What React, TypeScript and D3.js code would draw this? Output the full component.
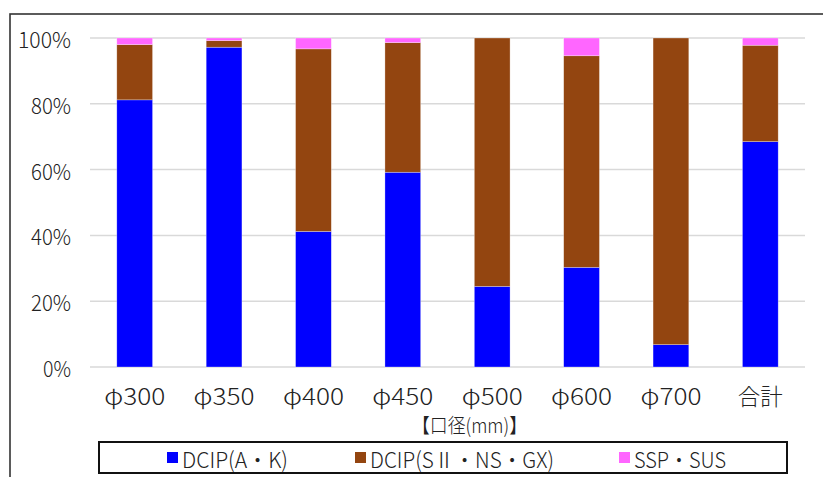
import React from "react";
import * as d3 from "d3";

const categories = ["φ300", "φ350", "φ400", "φ450", "φ500", "φ600", "φ700", "合計"];
const dcipAK = [81.2, 97.2, 41.2, 59.2, 24.5, 30.3, 6.8, 68.5];
const dcipSNG = [16.8, 2.0, 55.5, 39.4, 75.5, 64.3, 93.2, 29.3];
const sspSus = [2.0, 0.8, 3.3, 1.4, 0.0, 5.4, 0.0, 2.2];
const seriesNames = ["DCIP(A・K)", "DCIP(SⅡ・NS・GX)", "SSP・SUS"];
const seriesColors = ["#0000FF", "#934510", "#FF66FF"];
const yTicks = [0, 20, 40, 60, 80, 100];
const xTitle = "【口径(mm)】";

const W = 823;
const H = 477;
const FONT = "'Noto Sans CJK JP', 'Noto Sans', sans-serif";

export default function App() {
  const x = d3.scaleBand<string>().domain(categories).range([90, 805]).paddingInner(0.6).paddingOuter(0.3);
  const y = d3.scaleLinear().domain([0, 100]).range([367, 38]);

  const rows = categories.map((c, i) => ({ cat: c, a: dcipAK[i], b: dcipSNG[i], c: sspSus[i] }));
  const stack = d3.stack<any>().keys(["a", "b", "c"])(rows);

  const legendX = [167, 355, 619];
  const legendTextLen = [106, 184, 92];

  return (
    <svg width={W} height={H} style={{ position: "absolute", left: 0, top: 0, display: "block", background: "#fff" }}>
      <rect x={10} y={14} width={900} height={700} fill="#fff" stroke="#333" strokeWidth={1.6} />
      {yTicks.map((t) => (
        <g key={t}>
          <line x1={90} x2={805} y1={y(t)} y2={y(t)} stroke="#d9d9d9" strokeWidth={1.5} />
          <text x={71} y={y(t)} textAnchor="end" dominantBaseline="central" fontFamily={FONT} fontWeight={300} fontSize={22} fill="#222"
            textLength={t === 100 ? 53 : t === 0 ? 28 : 40} lengthAdjust="spacingAndGlyphs">
            {t + "%"}
          </text>
        </g>
      ))}
      {stack.map((s, si) => (
        <g key={si} fill={seriesColors[si]}>
          {s.map((d, i) =>
            d[1] - d[0] > 0 ? (
              <rect
                key={i}
                x={x(categories[i])}
                width={x.bandwidth()}
                y={y(d[1])}
                height={y(d[0]) - y(d[1])}
                stroke="#ffffff"
                strokeOpacity={0.5}
                strokeWidth={0.6}
              />
            ) : null
          )}
        </g>
      ))}
      {categories.map((c, i) => (
        <text key={c} x={(x(c) as number) + x.bandwidth() / 2} y={395} textAnchor="middle" dominantBaseline="central" fontFamily={FONT} fontWeight={300} fontSize={23} fill="#222"
          textLength={i === categories.length - 1 ? 45 : 61} lengthAdjust="spacingAndGlyphs">
          {c}
        </text>
      ))}
      <text x={469.5} y={424} textAnchor="middle" dominantBaseline="central" fontFamily={FONT} fontWeight={300} fontSize={20} fill="#222" textLength={115} lengthAdjust="spacingAndGlyphs">
        {xTitle}
      </text>
      <rect x={99} y={442} width={688} height={31} fill="#fff" stroke="#111" strokeWidth={2} />
      {seriesNames.map((n, i) => (
        <g key={n}>
          <rect x={legendX[i]} y={452} width={11} height={11} fill={seriesColors[i]} />
          <text x={legendX[i] + 15} y={458} dominantBaseline="central" fontFamily={FONT} fontWeight={300} fontSize={22} fill="#222" textLength={legendTextLen[i]} lengthAdjust="spacingAndGlyphs">
            {n}
          </text>
        </g>
      ))}
    </svg>
  );
}
